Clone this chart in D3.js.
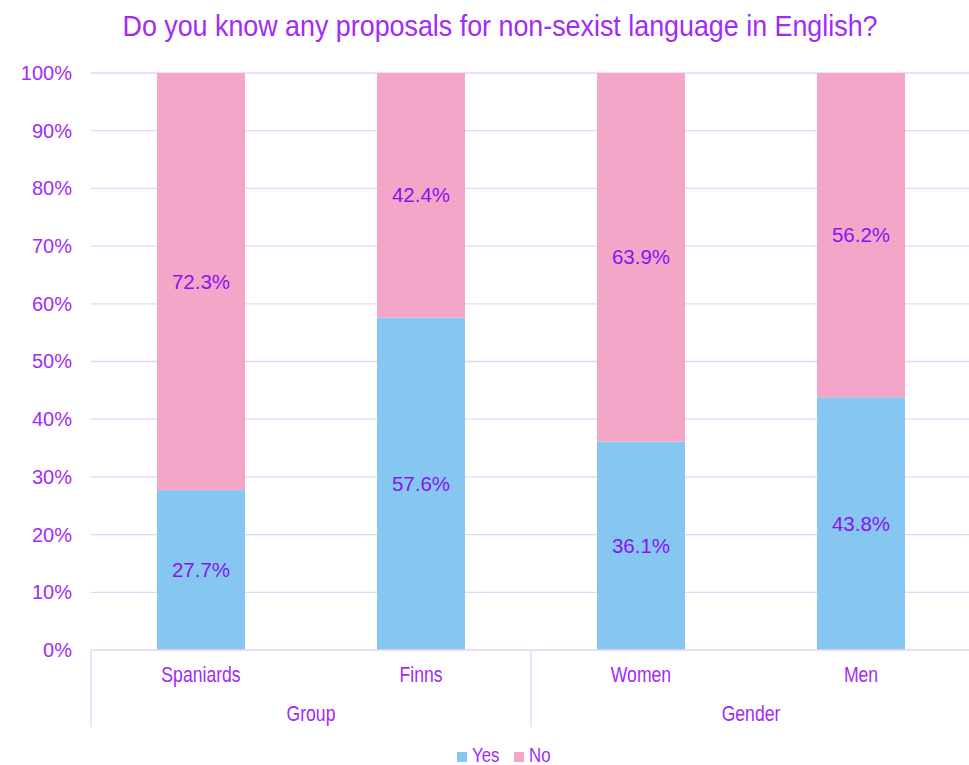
<!DOCTYPE html>
<html>
<head>
<meta charset="utf-8">
<script src="https://cdn.jsdelivr.net/npm/d3@7"></script>
<style>
  html, body { margin: 0; padding: 0; background: #fff; }
  svg { display: block; }
</style>
</head>
<body>
<svg id="chart" width="969" height="765"></svg>
<script>
// Survey data: share of respondents who know proposals for non-sexist language
const categories = ["Spaniards", "Finns", "Women", "Men"];
const groups = [
  { name: "Group", members: ["Spaniards", "Finns"] },
  { name: "Gender", members: ["Women", "Men"] }
];
const yesValues = [27.7, 57.6, 36.1, 43.8];
const noValues = [72.3, 42.4, 63.9, 56.2];
const seriesNames = ["Yes", "No"];
const yTicks = [0, 10, 20, 30, 40, 50, 60, 70, 80, 90, 100];

const colors = { Yes: "#85C7F0", No: "#F4A6C8" };
const textPurple = "#A22BF5";
const labelPurple = "#8A12F2";
const gridColor = "#E8D2FB";
const baseFont = "'Liberation Sans', Arial, sans-serif";

// Condense a text element horizontally, like a narrow face
function narrow(sel, factor = 0.8) {
  sel.each(function () {
    const len = this.getComputedTextLength();
    d3.select(this).attr("textLength", len * factor).attr("lengthAdjust", "spacingAndGlyphs");
  });
}

const svg = d3.select("#chart");
const plotLeft = 91, plotRight = 971, plotTop = 73, plotBottom = 650;

const x = d3.scaleBand().domain(categories).range([plotLeft, plotRight]).paddingInner(0.6).paddingOuter(0.3);
const y = d3.scaleLinear().domain([0, 100]).range([plotBottom, plotTop]);

// Title
svg.append("text")
  .attr("x", 500).attr("y", 36)
  .attr("text-anchor", "middle")
  .attr("font-family", baseFont)
  .attr("font-size", 30)
  .attr("fill", textPurple)
  .text("Do you know any proposals for non-sexist language in English?")
  .call(s => s.attr("textLength", 755).attr("lengthAdjust", "spacingAndGlyphs"));

// Gridlines
svg.append("g").selectAll("line")
  .data(yTicks.filter(t => t > 0))
  .join("line")
  .attr("x1", plotLeft).attr("x2", 969)
  .attr("y1", d => y(d)).attr("y2", d => y(d))
  .attr("stroke", gridColor).attr("stroke-width", 1.3);

// Y axis labels
const yAxis = d3.axisLeft(y).tickValues(yTicks).tickFormat(d => d + "%").tickSize(0).tickPadding(19);
const yg = svg.append("g").attr("transform", `translate(${plotLeft},0)`).call(yAxis);
yg.select(".domain").remove();
yg.selectAll("text")
  .attr("font-family", baseFont)
  .attr("font-size", 20)
  .attr("fill", textPurple);

// Stacked bars
const table = categories.map((c, i) => ({ category: c, Yes: yesValues[i], No: noValues[i] }));
const stack = d3.stack().keys(seriesNames)(table);

const layers = svg.append("g").selectAll("g")
  .data(stack)
  .join("g")
  .attr("fill", d => colors[d.key]);

layers.selectAll("rect")
  .data(d => d)
  .join("rect")
  .attr("x", d => x(d.data.category))
  .attr("width", x.bandwidth())
  .attr("y", d => y(d[1]))
  .attr("height", d => y(d[0]) - y(d[1]));

// Value labels
layers.selectAll("text")
  .data(d => d.map(v => ({ v, key: d.key })))
  .join("text")
  .attr("x", d => x(d.v.data.category) + x.bandwidth() / 2)
  .attr("y", d => (y(d.v[0]) + y(d.v[1])) / 2 + 7)
  .attr("text-anchor", "middle")
  .attr("font-family", baseFont)
  .attr("font-size", 20.5)
  .attr("fill", labelPurple)
  .text(d => d.v.data[d.key].toFixed(1) + "%");

// Category axis: baseline and group separators
const axisG = svg.append("g");
axisG.append("line")
  .attr("x1", plotLeft).attr("x2", 969)
  .attr("y1", plotBottom).attr("y2", plotBottom)
  .attr("stroke", gridColor).attr("stroke-width", 1.3);

const step = x.step();
const groupBounds = groups.map(g => {
  const first = x(g.members[0]) - (step - x.bandwidth()) / 2;
  const last = x(g.members[g.members.length - 1]) + x.bandwidth() + (step - x.bandwidth()) / 2;
  return { name: g.name, x0: first, x1: last };
});
const separators = [groupBounds[0].x0, ...groupBounds.map(g => g.x1)];
axisG.selectAll("line.sep")
  .data(separators)
  .join("line")
  .attr("class", "sep")
  .attr("x1", d => d).attr("x2", d => d)
  .attr("y1", plotBottom).attr("y2", 727)
  .attr("stroke", gridColor).attr("stroke-width", 1.3);

axisG.selectAll("text.cat")
  .data(categories)
  .join("text")
  .attr("class", "cat")
  .attr("x", d => x(d) + x.bandwidth() / 2)
  .attr("y", 682)
  .attr("text-anchor", "middle")
  .attr("font-family", baseFont)
  .attr("font-size", 22)
  .attr("fill", textPurple)
  .text(d => d)
  .call(narrow);

axisG.selectAll("text.grp")
  .data(groupBounds)
  .join("text")
  .attr("class", "grp")
  .attr("x", d => (d.x0 + d.x1) / 2)
  .attr("y", 721)
  .attr("text-anchor", "middle")
  .attr("font-family", baseFont)
  .attr("font-size", 22)
  .attr("fill", textPurple)
  .text(d => d.name)
  .call(narrow);

// Legend
const legend = svg.append("g");
const legendItems = [{ key: "Yes", x: 457 }, { key: "No", x: 514 }];
legendItems.forEach(it => {
  legend.append("rect")
    .attr("x", it.x).attr("y", 752).attr("width", 10).attr("height", 10)
    .attr("fill", colors[it.key]);
  legend.append("text")
    .attr("x", it.x + 15).attr("y", 762)
    .attr("font-family", baseFont)
    .attr("font-size", 21)
    .attr("fill", textPurple)
    .text(it.key)
    .call(narrow);
});
</script>
</body>
</html>
